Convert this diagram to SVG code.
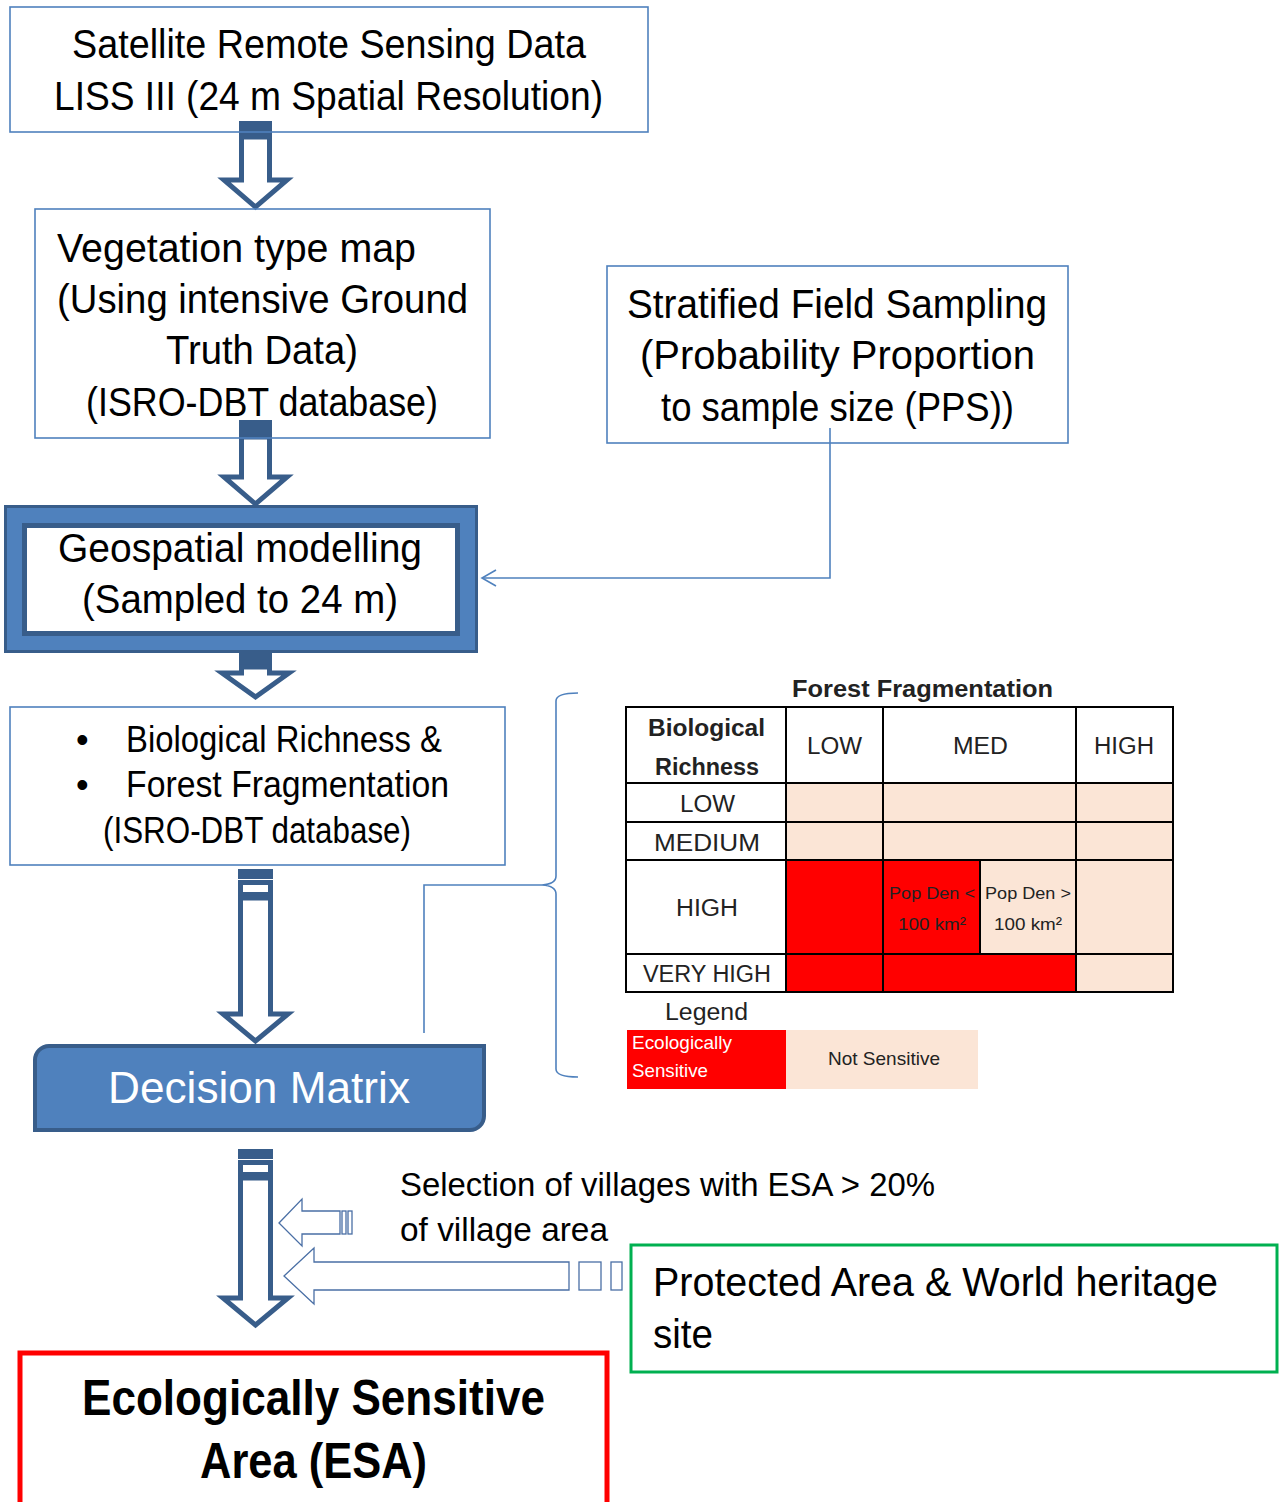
<svg xmlns="http://www.w3.org/2000/svg" width="1282" height="1502" viewBox="0 0 1282 1502">
<style>
  .box{fill:none;stroke:#4f81bd;stroke-width:1.6}
  .t{font-family:"Liberation Sans",Arial,sans-serif;fill:#000;}
  .t40{font-size:40px}
  .t36{font-size:36px}
  .t34{font-size:34px}
  .arr{fill:#fff;stroke:#385d8a;stroke-width:5;stroke-linejoin:miter}
  .dark{fill:#385d8a}
  .thin{fill:#fff;stroke:#4a6fa5;stroke-width:1.3}
  .conn{fill:none;stroke:#4f81bd;stroke-width:1.6}
  .grid{fill:none;stroke:#000;stroke-width:2}
  .tb{font-family:"Liberation Sans",Arial,sans-serif;fill:#222;font-size:23px}
  .ts{font-family:"Liberation Sans",Arial,sans-serif;fill:#222;font-size:17px}
  .tl{font-family:"Liberation Sans",Arial,sans-serif;fill:#222;font-size:19px}
  .red{fill:#ff0000}
  .peach{fill:#fbe5d6}
</style>
<defs>
  <marker id="openArrow" markerWidth="18" markerHeight="18" refX="15" refY="9" orient="auto" markerUnits="userSpaceOnUse">
    <path d="M1,1 L15,9 L1,17" fill="none" stroke="#4f81bd" stroke-width="1.6"/>
  </marker>
</defs>
<rect width="1282" height="1502" fill="#fff"/>

<g id="node-geospatial">
  <rect x="5.5" y="506.5" width="471" height="145" fill="#4f81bd" stroke="#385d8a" stroke-width="3"/>
  <rect x="24.5" y="525.5" width="433" height="108" fill="#fff" stroke="#385d8a" stroke-width="5"/>
  <text class="t t40" x="58" y="562" textLength="364" lengthAdjust="spacingAndGlyphs">Geospatial modelling</text>
  <text class="t t40" x="82" y="613" textLength="316" lengthAdjust="spacingAndGlyphs">(Sampled to 24 m)</text>
</g>

<g id="node-decision-matrix">
  <path d="M35,1060 A14,14 0 0 1 49,1046 H484 V1116 A14,14 0 0 1 470,1130 H35 Z" fill="#4f81bd" stroke="#385d8a" stroke-width="4"/>
  <text class="t" x="108" y="1103" font-size="44" style="fill:#fff" textLength="302" lengthAdjust="spacingAndGlyphs">Decision Matrix</text>
</g>

<g id="connectors">
  <rect class="dark" x="239" y="121" width="33" height="16"/>
  <polygon class="arr" points="241.5,137 241.5,180 224,180 255.5,207 287,180 269.5,180 269.5,137"/>
  <rect class="dark" x="239" y="420" width="33" height="17"/>
  <polygon class="arr" points="241.5,437 241.5,477 224,477 255.5,504 287,477 269.5,477 269.5,437"/>
  <rect class="dark" x="239" y="652" width="33" height="15"/>
  <polygon class="arr" points="241.5,667 241.5,673 222,673 255.5,697 289,673 269.5,673 269.5,667"/>
  <rect class="dark" x="238" y="869" width="35" height="10"/>
  <rect class="arr" x="240.5" y="882.5" width="30" height="12"/>
  <polygon class="arr" points="240.5,898 240.5,1014 223,1014 255.5,1041 288,1014 270.5,1014 270.5,898"/>
  <rect class="dark" x="238" y="1149" width="35" height="10"/>
  <rect class="arr" x="240.5" y="1162.5" width="30" height="12"/>
  <polygon class="arr" points="240.5,1178 240.5,1298 223,1298 255.5,1325 288,1298 270.5,1298 270.5,1178"/>
  <polygon class="thin" points="279,1223 302,1199 302,1211 340,1211 340,1234 302,1234 302,1246"/>
  <rect class="thin" x="342" y="1211" width="4" height="23"/>
  <rect class="thin" x="348" y="1211" width="4" height="23"/>
  <polygon class="thin" points="284,1276 314,1248 314,1262 569,1262 569,1290 314,1290 314,1304"/>
  <rect class="thin" x="579" y="1262" width="22" height="28"/>
  <rect class="thin" x="611" y="1262" width="11" height="28"/>
  <polyline class="conn" points="830,428 830,578 482,578" marker-end="url(#openArrow)"/>
  <polyline class="conn" points="424,1033 424,885 542,885"/>
  <path class="conn" d="M578,693 Q556,693 556,701 V876 Q556,884 542,885 Q556,886 556,894 V1069 Q556,1077 578,1077"/>
</g>

<g id="node-satellite">
  <rect class="box" x="10" y="7" width="638" height="125"/>
  <text class="t t40" x="72" y="58" textLength="514" lengthAdjust="spacingAndGlyphs">Satellite Remote Sensing Data</text>
  <text class="t t40" x="54" y="110" textLength="549" lengthAdjust="spacingAndGlyphs">LISS III (24 m Spatial Resolution)</text>
</g>

<g id="node-vegetation">
  <rect class="box" x="35" y="209" width="455" height="229"/>
  <text class="t t40" x="57" y="262" textLength="359" lengthAdjust="spacingAndGlyphs">Vegetation type map</text>
  <text class="t t40" x="57" y="313" textLength="411" lengthAdjust="spacingAndGlyphs">(Using intensive Ground</text>
  <text class="t t40" x="166" y="364" textLength="192" lengthAdjust="spacingAndGlyphs">Truth Data)</text>
  <text class="t t40" x="86" y="416" textLength="352" lengthAdjust="spacingAndGlyphs">(ISRO-DBT database)</text>
</g>

<g id="node-stratified">
  <rect class="box" x="607" y="266" width="461" height="177"/>
  <text class="t t40" x="627" y="318" textLength="420" lengthAdjust="spacingAndGlyphs">Stratified Field Sampling</text>
  <text class="t t40" x="640" y="369" textLength="395" lengthAdjust="spacingAndGlyphs">(Probability Proportion</text>
  <text class="t t40" x="661" y="421" textLength="353" lengthAdjust="spacingAndGlyphs">to sample size (PPS))</text>
</g>

<g id="node-biological">
  <rect class="box" x="10" y="707" width="495" height="158"/>
  <text class="t t36" x="76" y="752">•</text>
  <text class="t t36" x="76" y="797">•</text>
  <text class="t t36" x="126" y="752" textLength="316" lengthAdjust="spacingAndGlyphs">Biological Richness &amp;</text>
  <text class="t t36" x="126" y="797" textLength="323" lengthAdjust="spacingAndGlyphs">Forest Fragmentation</text>
  <text class="t t36" x="103" y="843" textLength="308" lengthAdjust="spacingAndGlyphs">(ISRO-DBT database)</text>
</g>

<g id="node-selection-label">
  <text class="t t34" x="400" y="1196" textLength="535" lengthAdjust="spacingAndGlyphs">Selection of villages with ESA &gt; 20%</text>
  <text class="t t34" x="400" y="1241" textLength="208" lengthAdjust="spacingAndGlyphs">of village area</text>
</g>

<g id="node-protected">
  <rect x="631" y="1245" width="646" height="127" fill="none" stroke="#00b050" stroke-width="3"/>
  <text class="t t40" x="653" y="1296" textLength="565" lengthAdjust="spacingAndGlyphs">Protected Area &amp; World heritage</text>
  <text class="t t40" x="653" y="1348" textLength="60" lengthAdjust="spacingAndGlyphs">site</text>
</g>

<g id="node-esa">
  <rect x="20" y="1353" width="587" height="160" fill="none" stroke="#ff0000" stroke-width="5"/>
  <text class="t" x="82" y="1415" font-size="50" font-weight="bold" textLength="463" lengthAdjust="spacingAndGlyphs">Ecologically Sensitive</text>
  <text class="t" x="200" y="1478" font-size="50" font-weight="bold" textLength="227" lengthAdjust="spacingAndGlyphs">Area (ESA)</text>
</g>

<g id="node-matrix-table">
  <text class="tb" x="792" y="697" font-weight="bold" textLength="261" lengthAdjust="spacingAndGlyphs">Forest Fragmentation</text>
  <rect class="peach" x="786" y="783" width="387" height="77"/>
  <rect class="red" x="786" y="860" width="194" height="94"/>
  <rect class="peach" x="980" y="860" width="193" height="94"/>
  <rect class="red" x="786" y="954" width="290" height="38"/>
  <rect class="peach" x="1076" y="954" width="97" height="38"/>
  <rect class="grid" x="626" y="707" width="547" height="285"/>
  <line class="grid" x1="786" y1="707" x2="786" y2="992"/>
  <line class="grid" x1="883" y1="707" x2="883" y2="992"/>
  <line class="grid" x1="1076" y1="707" x2="1076" y2="992"/>
  <line class="grid" x1="980" y1="860" x2="980" y2="954"/>
  <line class="grid" x1="626" y1="783" x2="1173" y2="783"/>
  <line class="grid" x1="626" y1="822" x2="1173" y2="822"/>
  <line class="grid" x1="626" y1="860" x2="1173" y2="860"/>
  <line class="grid" x1="626" y1="954" x2="1173" y2="954"/>
  <text class="tb" x="648" y="736" font-weight="bold" textLength="117" lengthAdjust="spacingAndGlyphs">Biological</text>
  <text class="tb" x="655" y="775" font-weight="bold" textLength="104" lengthAdjust="spacingAndGlyphs">Richness</text>
  <text class="tb" x="807" y="754" textLength="55" lengthAdjust="spacingAndGlyphs">LOW</text>
  <text class="tb" x="953" y="754" textLength="55" lengthAdjust="spacingAndGlyphs">MED</text>
  <text class="tb" x="1094" y="754" textLength="60" lengthAdjust="spacingAndGlyphs">HIGH</text>
  <text class="tb" x="680" y="812" textLength="55" lengthAdjust="spacingAndGlyphs">LOW</text>
  <text class="tb" x="654" y="851" textLength="106" lengthAdjust="spacingAndGlyphs">MEDIUM</text>
  <text class="tb" x="676" y="916" textLength="62" lengthAdjust="spacingAndGlyphs">HIGH</text>
  <text class="tb" x="643" y="982" textLength="128" lengthAdjust="spacingAndGlyphs">VERY HIGH</text>
  <text class="ts" x="889" y="899" textLength="86" lengthAdjust="spacingAndGlyphs">Pop Den &lt;</text>
  <text class="ts" x="898" y="930" textLength="68" lengthAdjust="spacingAndGlyphs">100 km²</text>
  <text class="ts" x="985" y="899" textLength="86" lengthAdjust="spacingAndGlyphs">Pop Den &gt;</text>
  <text class="ts" x="994" y="930" textLength="68" lengthAdjust="spacingAndGlyphs">100 km²</text>
  <text class="tb" x="665" y="1020" textLength="83" lengthAdjust="spacingAndGlyphs">Legend</text>
  <rect class="red" x="627" y="1030" width="159" height="59"/>
  <rect class="peach" x="786" y="1030" width="192" height="59"/>
  <text class="tl" x="632" y="1049" style="fill:#fff" textLength="100" lengthAdjust="spacingAndGlyphs">Ecologically</text>
  <text class="tl" x="632" y="1077" style="fill:#fff" textLength="76" lengthAdjust="spacingAndGlyphs">Sensitive</text>
  <text class="tl" x="828" y="1065" textLength="112" lengthAdjust="spacingAndGlyphs">Not Sensitive</text>
</g>
</svg>
